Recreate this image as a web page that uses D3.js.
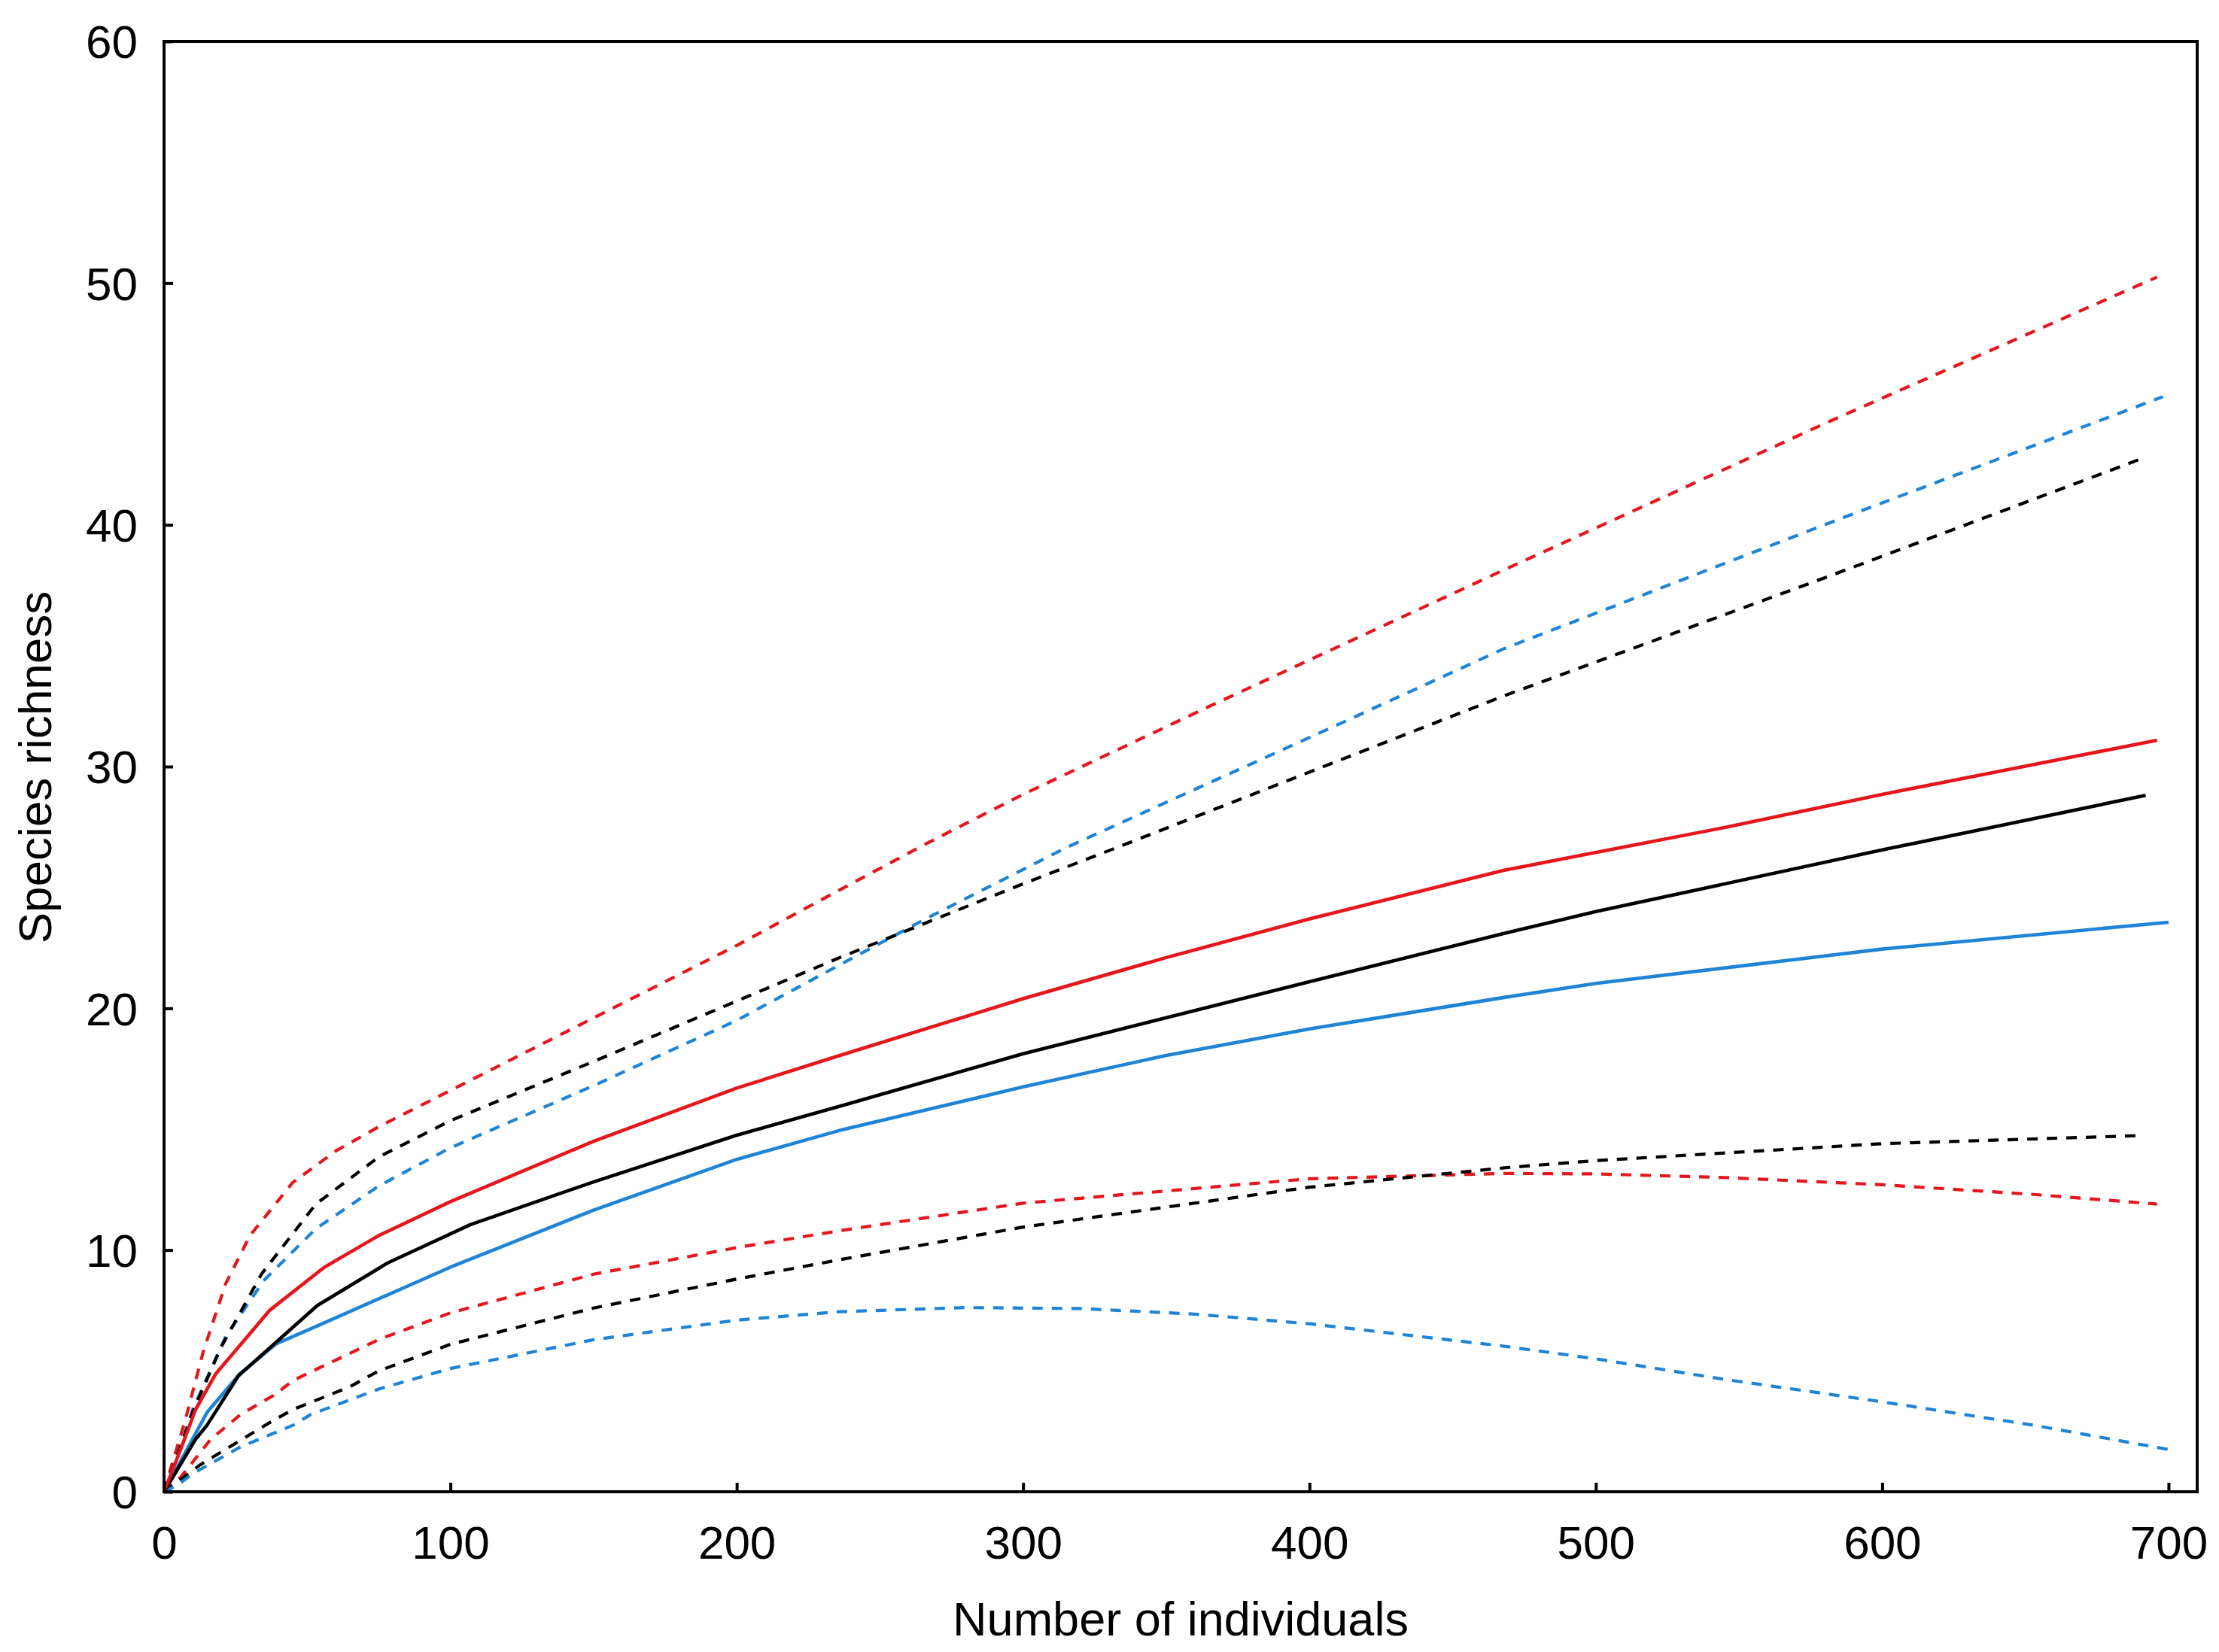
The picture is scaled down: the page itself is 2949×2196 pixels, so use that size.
<!DOCTYPE html>
<html>
<head>
<meta charset="utf-8">
<script src="https://cdn.jsdelivr.net/npm/d3@7"></script>
<style>
  html, body { margin: 0; padding: 0; background: #fff; }
  svg { display: block; }
  text { font-family: "Liberation Sans", Arial, sans-serif; fill: #000; }
</style>
</head>
<body>
<svg id="chart" width="2949" height="2196"></svg>
<script>
// ---------- data ----------
const xTicks = [0, 100, 200, 300, 400, 500, 600, 700];
const yTicks = [0, 10, 20, 30, 40, 50, 60];
const xLabel = "Number of individuals";
const yLabel = "Species richness";

// red group
const redMean  = [[0,0],[5.8,1.75],[11,3.4],[18,4.87],[37,7.52],[56,9.29],[75,10.6],[100,12.0],[150,14.5],[200,16.7],[236,18.05],[300,20.4],[350,22.1],[400,23.7],[468,25.71],[545,27.48],[600,28.85],[696,31.09]];
const redUpper = [[0,0],[1.4,0.6],[7.5,3.0],[13.7,5.8],[21.5,8.6],[30,10.6],[45,12.8],[60,14.1],[75,15.1],[100,16.6],[150,19.6],[200,22.6],[236,24.9],[266,26.8],[300,28.85],[367,32.6],[468,38.14],[582,44.3],[696,50.25]];
const redLower = [[0,0],[5.8,0.6],[16.3,2.17],[26.8,3.2],[39,4.04],[45,4.6],[75,6.3],[100,7.4],[150,9.0],[200,10.1],[236,10.8],[300,11.94],[400,12.95],[468,13.17],[500,13.15],[545,13.0],[600,12.7],[653,12.3],[696,11.9]];

// black group
const blackMean  = [[0,0],[11,2.17],[15,2.75],[26,4.8],[53.5,7.7],[78,9.46],[107,11.05],[150,12.82],[200,14.75],[236,15.95],[300,18.12],[400,21.1],[468,23.1],[500,24.0],[600,26.55],[638,27.48],[692,28.81]];
const blackUpper = [[0,0],[5,1.6],[10,3.3],[20,6.0],[34,9.0],[53,11.9],[75,13.85],[100,15.35],[150,17.8],[200,20.3],[236,22.1],[300,25.15],[336,26.8],[468,32.93],[582,37.9],[692,42.8]];
const blackLower = [[0,0],[12.8,1.13],[37.3,2.89],[45,3.4],[65,4.35],[75,5.0],[100,6.1],[150,7.6],[200,8.8],[236,9.6],[300,10.95],[400,12.6],[468,13.4],[500,13.7],[600,14.4],[689,14.73]];

// blue group
const blueMean  = [[0,0],[15,3.28],[26.4,4.87],[39,6.11],[56,6.99],[100,9.29],[150,11.65],[200,13.75],[236,14.95],[300,16.75],[350,18.05],[400,19.15],[468,20.45],[500,21.03],[600,22.45],[700,23.56]];
const blueUpper = [[0,0],[5,1.6],[10,3.4],[21.5,6.42],[35,8.76],[53,10.88],[75,12.65],[100,14.23],[150,16.8],[200,19.5],[236,21.8],[266,23.7],[316,26.7],[400,31.2],[468,34.88],[582,40.1],[698,45.3]];
const blueLower = [[0,0],[5,0.3],[10,0.75],[26.8,1.86],[45,2.75],[51.3,3.2],[75,4.25],[100,5.1],[150,6.29],[200,7.1],[236,7.45],[280,7.62],[320,7.58],[360,7.35],[400,6.95],[468,6.02],[500,5.5],[545,4.65],[600,3.72],[653,2.75],[700,1.75]];

const RED = "#e5161c", BLACK = "#000000", BLUE = "#1f84d6";
const series = [
  {d: redUpper,   c: RED,   dash: true},
  {d: blueUpper,  c: BLUE,  dash: true},
  {d: blackUpper, c: BLACK, dash: true},
  {d: redLower,   c: RED,   dash: true},
  {d: blackLower, c: BLACK, dash: true},
  {d: blueLower,  c: BLUE,  dash: true},
  {d: blueMean,   c: BLUE,  dash: false},
  {d: blackMean,  c: BLACK, dash: false},
  {d: redMean,    c: RED,   dash: false}
];

// ---------- layout ----------
const L = 218, R = 2920, T = 55, B = 1983;
const x = d3.scaleLinear().domain([0, 710]).range([L, R]);
const y = d3.scaleLinear().domain([0, 60]).range([B, T]);

const svg = d3.select("#chart");
svg.append("rect").attr("width", 2949).attr("height", 2196).attr("fill", "#fff");

const line = d3.line().x(d => x(d[0])).y(d => y(d[1]));
svg.append("g").selectAll("path").data(series).join("path")
  .attr("d", s => line(s.d))
  .attr("fill", "none")
  .attr("stroke", s => s.c)
  .attr("stroke-width", s => s.dash ? 4.2 : 4.6)
  .attr("stroke-dasharray", s => s.dash ? "14,12" : null)
  .attr("stroke-linejoin", "round");

// axes
const xAxis = svg.append("g").attr("transform", `translate(0,${B})`)
  .call(d3.axisBottom(x).tickValues(xTicks).tickSize(-12).tickFormat(d3.format("d")));
xAxis.select(".domain").remove();
xAxis.selectAll("line").attr("stroke", "#000").attr("stroke-width", 4);
xAxis.selectAll("text").attr("y", 89).attr("dy", 0).attr("font-size", 62)
  .attr("font-family", "Liberation Sans, Arial, sans-serif").attr("fill", "#000");

const yAxis = svg.append("g").attr("transform", `translate(${L},0)`)
  .call(d3.axisLeft(y).tickValues(yTicks).tickSize(-12).tickFormat(d3.format("d")));
yAxis.select(".domain").remove();
yAxis.selectAll("line").attr("stroke", "#000").attr("stroke-width", 4);
yAxis.selectAll("text").attr("x", -35).attr("dy", "0.35em").attr("font-size", 62)
  .attr("font-family", "Liberation Sans, Arial, sans-serif").attr("fill", "#000");

// frame
svg.append("rect").attr("x", L).attr("y", T).attr("width", R - L).attr("height", B - T)
  .attr("fill", "none").attr("stroke", "#000").attr("stroke-width", 4);

// titles
svg.append("text").attr("x", (L + R) / 2).attr("y", 2174).attr("text-anchor", "middle")
  .attr("font-size", 63).text(xLabel);
svg.append("text").attr("transform", `translate(68,${1020}) rotate(-90)`)
  .attr("text-anchor", "middle").attr("font-size", 62).text(yLabel);
</script>
</body>
</html>
